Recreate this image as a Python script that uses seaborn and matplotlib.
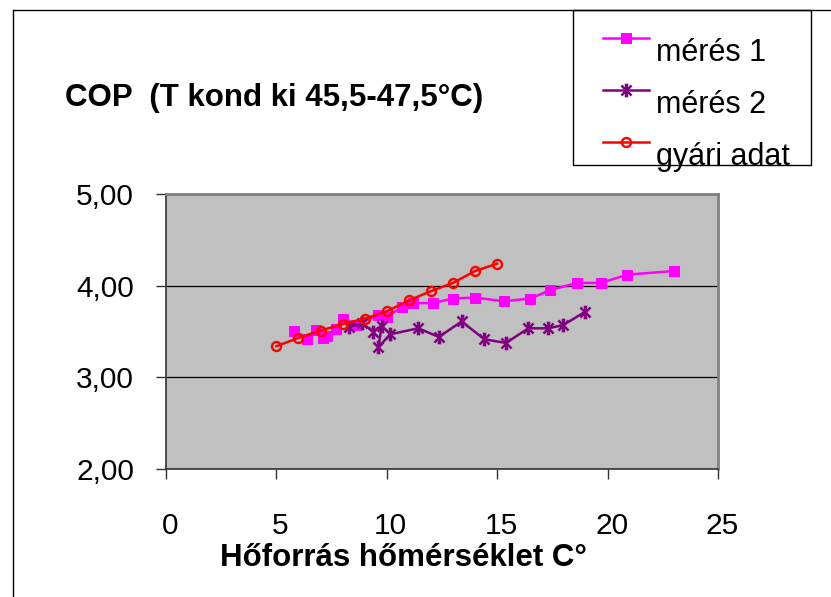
import matplotlib
matplotlib.use("Agg")
import matplotlib.pyplot as plt
import seaborn as sns
import numpy as np
import pandas as pd
from matplotlib.path import Path
from matplotlib.patches import Rectangle
from matplotlib.lines import Line2D
from matplotlib.transforms import ScaledTranslation

# ---- data ----
meres1_x = [5.8, 6.4, 6.8, 7.1, 7.3, 7.7, 8.0, 8.6, 9.6, 10.0, 10.7, 11.2, 12.1,
            13.0, 14.0, 15.3, 16.5, 17.4, 18.6, 19.7, 20.9, 23.0]
meres1_y = [3.51, 3.42, 3.52, 3.43, 3.45, 3.53, 3.64, 3.57, 3.68, 3.66, 3.77, 3.81, 3.81,
            3.86, 3.87, 3.83, 3.86, 3.95, 4.03, 4.03, 4.12, 4.16]

meres2_x = [8.3, 8.86, 9.39, 9.77, 9.62, 10.16, 11.43, 12.36, 13.39, 14.42, 15.4,
            16.41, 17.31, 17.99, 18.98]
meres2_y = [3.55, 3.59, 3.50, 3.565, 3.33, 3.47, 3.535, 3.44, 3.61, 3.415, 3.375,
            3.535, 3.535, 3.57, 3.715]

gyari_x = [5, 6, 7, 8, 9, 10, 11, 12, 13, 14, 15]
gyari_y = [3.34, 3.43, 3.51, 3.58, 3.64, 3.72, 3.84, 3.94, 4.03, 4.16, 4.24]

series_labels = ["mérés 1", "mérés 2", "gyári adat"]
x_ticks = [0, 5, 10, 15, 20, 25]
y_ticks = [2, 3, 4, 5]
y_tick_labels = ["2,00", "3,00", "4,00", "5,00"]
title = "COP  (T kond ki 45,5-47,5°C)"
x_label = "Hőforrás hőmérséklet C°"

plt.rcParams['font.family'] = ['Liberation Sans', 'DejaVu Sans']

W, H = 831, 597
fig = plt.figure(figsize=(W / 100, H / 100), dpi=100)
fig.patch.set_facecolor("white")

L, R, T, B = 166, 718, 194, 469
ax = fig.add_axes([L / W, 1 - B / H, (R - L) / W, (B - T) / H])
ax.set_facecolor("#C0C0C0")

# Excel-like star marker (asterisk with small caps)
star_path = Path(
    [(-1, -1), (1, 1), (-1, 1), (1, -1), (0, -1.1), (0, 1.1),
     (-0.35, 1.1), (0.35, 1.1), (-0.35, -1.1), (0.35, -1.1)],
    [Path.MOVETO, Path.LINETO, Path.MOVETO, Path.LINETO, Path.MOVETO, Path.LINETO,
     Path.MOVETO, Path.LINETO, Path.MOVETO, Path.LINETO])

df1 = pd.DataFrame({"x": meres1_x, "y": meres1_y})
df2 = pd.DataFrame({"x": meres2_x, "y": meres2_y})
df3 = pd.DataFrame({"x": gyari_x, "y": gyari_y})

sns.lineplot(data=df1, x="x", y="y", ax=ax, sort=False, estimator=None,
             color="#FF00FF", lw=1.8, marker="s", markersize=6.5,
             markeredgecolor="#FF00FF", markerfacecolor="#FF00FF", zorder=3)
sns.lineplot(data=df2, x="x", y="y", ax=ax, sort=False, estimator=None,
             color="#800080", lw=1.8, marker=star_path, markersize=8,
             markeredgewidth=1.8, markeredgecolor="#800080",
             markerfacecolor="none", zorder=4)
sns.lineplot(data=df3, x="x", y="y", ax=ax, sort=False, estimator=None,
             color="#FF0000", lw=1.8, marker="o", markersize=6.5,
             markeredgewidth=1.7, markeredgecolor="#FF0000",
             markerfacecolor="none", zorder=5)

ax.set_xlim(0, 25)
ax.set_ylim(2, 5)
ax.set_xticks(x_ticks)
ax.set_xticklabels([str(v) for v in x_ticks])
ax.set_yticks(y_ticks)
ax.set_yticklabels(y_tick_labels)
ax.set_xlabel("")
ax.set_ylabel("")
ax.grid(False)
ax.yaxis.grid(True, color="black", lw=0.9)
ax.set_axisbelow(True)

ax.tick_params(axis="y", direction="out", length=7, width=1, color="#333333",
               labelsize=21.5, pad=16)
ax.tick_params(axis="x", direction="out", length=7, width=1, color="#333333",
               labelsize=21.5, pad=24)
shift = ScaledTranslation(4 / 100, 0, fig.dpi_scale_trans)
for lbl in ax.get_xticklabels():
    lbl.set_transform(lbl.get_transform() + shift)
for s in ["left", "bottom"]:
    ax.spines[s].set_color("#333333")
    ax.spines[s].set_linewidth(1.2)
for s in ["top", "right"]:
    ax.spines[s].set_color("#808080")
    ax.spines[s].set_linewidth(2)

# titles
fig.text(65 / W, 1 - 98 / H, title, fontsize=22.5, fontweight="bold",
         ha="left", va="center")
fig.text(403 / W, 1 - 558 / H, x_label, fontsize=22.5, fontweight="bold",
         ha="center", va="center")

# figure border (top and left)
fig.add_artist(Line2D([13 / W, 13 / W], [0, 1 - 10 / H], color="black", lw=1,
                      transform=fig.transFigure))
fig.add_artist(Line2D([13 / W, 1], [1 - 10 / H, 1 - 10 / H], color="black", lw=1,
                      transform=fig.transFigure))

# legend frame (drawn beneath the axes so the legend sits on top)
fig.add_artist(Rectangle((573 / W, 1 - 165 / H), (811 - 573) / W, (165 - 10) / H,
                         transform=fig.transFigure, facecolor="white",
                         edgecolor="black", lw=1, zorder=-1))
handles = ax.get_lines()[:3]
leg = ax.legend(handles, series_labels, frameon=False, loc="upper left",
                bbox_to_anchor=(603 / W, 1 - 26 / H), bbox_transform=fig.transFigure,
                fontsize=22, handlelength=1.5, handletextpad=0.22,
                labelspacing=0.72, borderpad=0, borderaxespad=0)
leg.set_zorder(10)
for t in leg.get_texts():
    t.set_y(-12)

fig.savefig("out.png", dpi=100, facecolor="white")
